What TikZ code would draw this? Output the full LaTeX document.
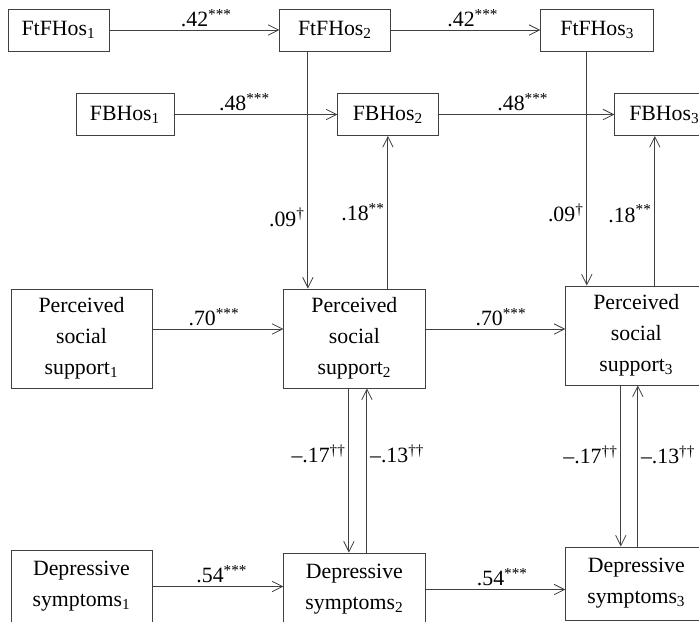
\documentclass[tikz,border=0pt]{standalone}
\usepackage{fontspec}
\setmainfont{Liberation Serif}
\usetikzlibrary{positioning,arrows.meta}

\tikzset{
	var/.style={draw=black!75, line width=0.6pt, font=\fontsize{15.5}{22}\selectfont, align=center, inner sep=0pt},
	hos/.style={var, minimum height=1.05cm},
	wide/.style={var, minimum width=3.525cm},
	effect/.style={draw=black!75, line width=0.6pt, -{Straight Barb[length=2.6mm,width=2.6mm]}},
	coef/.style={font=\fontsize{15.5}{18}\selectfont, inner sep=2pt},
}

\begin{document}
\begin{tikzpicture}[x=0.025cm, y=-0.025cm]
	\clip (0,0) rectangle (699,621);
	\node[hos, minimum width=2.525cm] (ftf1) at (58.5,30) {FtFHos\textsubscript{1}};
	\node[hos, minimum width=2.75cm, right=4.25cm of ftf1] (ftf2) {FtFHos\textsubscript{2}};
	\node[hos, minimum width=2.825cm, right=3.75cm of ftf2] (ftf3) {FtFHos\textsubscript{3}};
	\node[hos, minimum width=2.45cm] (fb1) at (125,114.5) {FBHos\textsubscript{1}};
	\node[hos, minimum width=2.5cm, right=4.075cm of fb1] (fb2) {FBHos\textsubscript{2}};
	\node[hos, minimum width=2.475cm, right=4.4cm of fb2] (fb3) {FBHos\textsubscript{3}};
	\node[wide, minimum height=2.475cm] (pss1) at (81.5,338.5) {Perceived\\social\\support\textsubscript{1}};
	\node[wide, minimum height=2.475cm, right=3.275cm of pss1] (pss2) {Perceived\\social\\support\textsubscript{2}};
	\node[wide, minimum height=2.475cm, right=3.5cm of pss2, yshift=0.075cm] (pss3) {Perceived\\social\\support\textsubscript{3}};
	\node[wide, minimum height=1.825cm] (ds1) at (81.5,586.5) {Depressive\\symptoms\textsubscript{1}};
	\node[wide, minimum height=1.825cm, right=3.275cm of ds1, yshift=-0.075cm] (ds2) {Depressive\\symptoms\textsubscript{2}};
	\node[wide, minimum height=1.825cm, right=3.5cm of ds2, yshift=0.15cm] (ds3) {Depressive\\symptoms\textsubscript{3}};

	\draw[effect] (ftf1) -- node[coef, above, pos=0.57] {.42\textsuperscript{***}} (ftf2);
	\draw[effect] (ftf2) -- node[coef, above, pos=0.55] {.42\textsuperscript{***}} (ftf3);
	\draw[effect] (fb1) -- node[coef, above, pos=0.43] {.48\textsuperscript{***}} (fb2);
	\draw[effect] (fb2) -- node[coef, above, pos=0.48] {.48\textsuperscript{***}} (fb3);
	\draw[effect] ([yshift=0.2375cm]pss1.east) -- node[coef, above, pos=0.47] {.70\textsuperscript{***}} ([yshift=0.2375cm]pss2.west);
	\draw[effect] ([yshift=0.2375cm]pss2.east) -- node[coef, above, pos=0.54] {.70\textsuperscript{***}} ([yshift=0.2375cm]pss2.east -| pss3.west);
	\draw[effect] (ds1.east) -- node[coef, above, pos=0.53] {.54\textsuperscript{***}} (ds1.east -| ds2.west);
	\draw[effect] (ds2.east) -- node[coef, above, pos=0.55] {.54\textsuperscript{***}} (ds2.east -| ds3.west);

	\draw[effect] ([xshift=-0.675cm]ftf2.south) -- node[coef, left, pos=0.7] {.09\textsuperscript{\textdagger}} ([xshift=-0.675cm]ftf2.south |- pss2.north);
	\draw[effect] (fb2.south |- pss2.north) -- node[coef, left, pos=0.5] {.18\textsuperscript{**}} (fb2.south);
	\draw[effect] ([xshift=-0.2625cm]ftf3.south) -- node[coef, left, pos=0.69] {.09\textsuperscript{\textdagger}} ([xshift=-0.2625cm]ftf3.south |- pss3.north);
	\draw[effect] ([xshift=-0.2375cm]fb3.south |- pss3.north) -- node[coef, left, pos=0.48] {.18\textsuperscript{**}} ([xshift=-0.2375cm]fb3.south);

	\draw[effect] ([xshift=-0.1375cm]pss2.south) -- node[coef, left, pos=0.4] {--.17\textsuperscript{\textdagger\textdagger}} ([xshift=-0.1375cm]pss2.south |- ds2.north);
	\draw[effect] ([xshift=0.3125cm]pss2.south |- ds2.north) -- node[coef, right, pos=0.6] {--.13\textsuperscript{\textdagger\textdagger}} ([xshift=0.3125cm]pss2.south);
	\draw[effect] ([xshift=-0.3875cm]pss3.south) -- node[coef, left, pos=0.43] {--.17\textsuperscript{\textdagger\textdagger}} ([xshift=-0.3875cm]pss3.south |- ds3.north);
	\draw[effect] ([xshift=0.0375cm]pss3.south |- ds3.north) -- node[coef, right, pos=0.57] {--.13\textsuperscript{\textdagger\textdagger}} ([xshift=0.0375cm]pss3.south);
\end{tikzpicture}
\end{document}
